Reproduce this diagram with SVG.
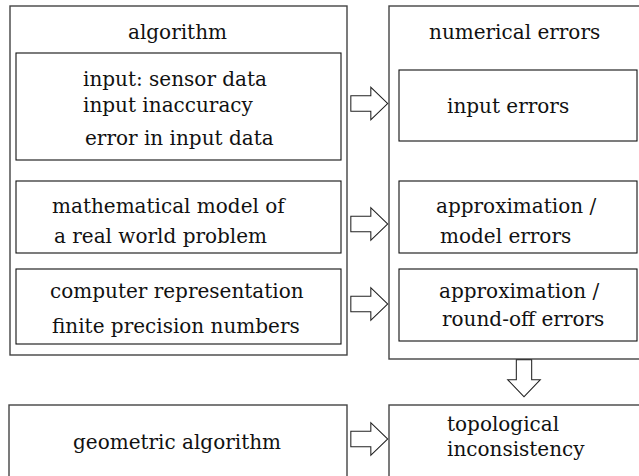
<svg xmlns="http://www.w3.org/2000/svg" width="639" height="476" viewBox="0 0 639 476">
<defs>
<style>
.outer{fill:none;stroke:#444;stroke-width:1.4}
.inner{fill:none;stroke:#111;stroke-width:1.1}
.t{font-family:"DejaVu Serif","Liberation Serif",serif;font-size:20px;fill:#111}
.a1{fill:white;stroke:#222;stroke-width:3.4;stroke-linejoin:miter}
.a2{fill:white;stroke:white;stroke-width:1.3;stroke-linejoin:miter}
</style>
<path id="arr" d="M0,-6.5 H20 V-13.5 L34,0 L20,13.5 V6.5 H0 Z"/>
</defs>
<rect width="639" height="476" fill="white"/>
<g id="algorithm">
<rect class="outer" x="10" y="6" width="337" height="349"/>
<text class="t" x="128" y="39">algorithm</text>
</g>
<g id="input">
<rect class="inner" x="16" y="53" width="325" height="107"/>
<text class="t" x="83" y="86">input: sensor data</text>
<text class="t" x="83" y="112">input inaccuracy</text>
<text class="t" x="85" y="145">error in input data</text>
</g>
<g id="model">
<rect class="inner" x="16" y="181" width="325" height="72"/>
<text class="t" x="52" y="213">mathematical model of</text>
<text class="t" x="54" y="243">a real world problem</text>
</g>
<g id="representation">
<rect class="inner" x="16" y="269" width="325" height="75"/>
<text class="t" x="50" y="298">computer representation</text>
<text class="t" x="52" y="333">finite precision numbers</text>
</g>
<g id="numerical">
<rect class="outer" x="389" y="6" width="260" height="353"/>
<text class="t" x="429" y="39">numerical errors</text>
</g>
<g id="inputerrors">
<rect class="inner" x="399" y="70" width="238" height="71"/>
<text class="t" x="447" y="113">input errors</text>
</g>
<g id="modelerrors">
<rect class="inner" x="399" y="181" width="238" height="72"/>
<text class="t" x="436" y="213">approximation /</text>
<text class="t" x="440" y="243">model errors</text>
</g>
<g id="roundoff">
<rect class="inner" x="399" y="269" width="238" height="72"/>
<text class="t" x="439" y="298">approximation /</text>
<text class="t" x="442" y="326">round-off errors</text>
</g>
<g id="geometric">
<rect class="outer" x="9" y="405" width="338" height="80"/>
<text class="t" x="73" y="449">geometric algorithm</text>
</g>
<g id="topological">
<rect class="outer" x="389" y="405" width="260" height="80"/>
<text class="t" x="447" y="431">topological</text>
<text class="t" x="447" y="456">inconsistency</text>
</g>
<g id="connectors">
<g transform="translate(352,103.5)"><use href="#arr" class="a1"/><use href="#arr" class="a2"/></g>
<g transform="translate(352,224)"><use href="#arr" class="a1"/><use href="#arr" class="a2"/></g>
<g transform="translate(352,304)"><use href="#arr" class="a1"/><use href="#arr" class="a2"/></g>
<g transform="translate(352,439)"><use href="#arr" class="a1"/><use href="#arr" class="a2"/></g>
<g transform="translate(524,361) rotate(90)"><use href="#arr" class="a1"/><use href="#arr" class="a2"/></g>
</g>
</svg>
